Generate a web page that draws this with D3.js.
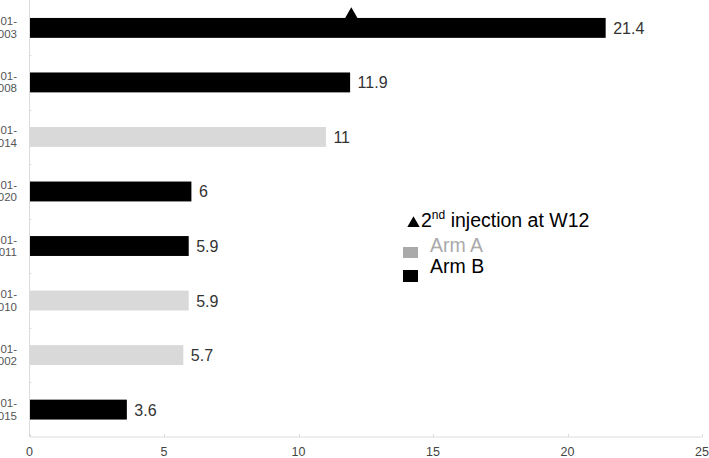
<!DOCTYPE html>
<html>
<head>
<meta charset="utf-8">
<script src="https://cdn.jsdelivr.net/npm/d3@7"></script>
<style>
  body { margin: 0; background: #fff; }
  svg { font-family: "Liberation Sans", Arial, sans-serif; }
</style>
</head>
<body>
<div id="chart"></div>
<script>
// data
var patients = ["01-003", "01-008", "01-014", "01-020", "01-011", "01-010", "01-002", "01-015"];
var values = [21.4, 11.9, 11, 6, 5.9, 5.9, 5.7, 3.6];
var arms = ["B", "B", "A", "B", "B", "A", "A", "B"];
var xTicks = [0, 5, 10, 15, 20, 25];
var injectionWeek = 12; // marker on 01-003

var W = 709, H = 458;
var plotLeft = 29.5, plotRight = 702, plotTop = 0.5, plotBottom = 437;

var svg = d3.select("#chart").append("svg").attr("width", W).attr("height", H);

var x = d3.scaleLinear().domain([0, 25]).range([plotLeft, plotRight]);
var y = d3.scaleBand().domain(patients).range([plotTop, plotBottom]).paddingInner(0.635).paddingOuter(0.32);
var yb = d3.scaleBand().domain(patients).range([plotTop, plotBottom]);
var armColor = { A: "#d9d9d9", B: "#000" };

// axes lines
svg.append("line").attr("x1", plotLeft).attr("x2", plotLeft).attr("y1", 0).attr("y2", plotBottom)
  .attr("stroke", "#dcdcdc").attr("stroke-width", 1);
svg.append("line").attr("x1", plotLeft).attr("x2", plotRight).attr("y1", plotBottom).attr("y2", plotBottom)
  .attr("stroke", "#dcdcdc").attr("stroke-width", 1);

// y ticks at band boundaries
svg.selectAll("ytick").data(patients.slice(1)).enter().append("line")
  .attr("x1", plotLeft).attr("x2", plotLeft + 2)
  .attr("y1", function (d) { return Math.round(yb(d)) + 0.5; })
  .attr("y2", function (d) { return Math.round(yb(d)) + 0.5; })
  .attr("stroke", "#dcdcdc");

// x ticks
svg.selectAll("xtick").data(xTicks).enter().append("line")
  .attr("x1", function (d) { return Math.round(x(d)) + 0.5; })
  .attr("x2", function (d) { return Math.round(x(d)) + 0.5; })
  .attr("y1", plotBottom - 3).attr("y2", plotBottom)
  .attr("stroke", "#dcdcdc");
svg.selectAll("xlab").data(xTicks).enter().append("text")
  .attr("x", function (d) { return x(d); })
  .attr("y", 456)
  .attr("text-anchor", "middle")
  .style("font-size", "12.5px")
  .style("fill", "#444")
  .text(function (d) { return d; });

// y labels (two lines, partly cut at left)
var ylab = svg.selectAll("ylab").data(patients).enter().append("text")
  .attr("text-anchor", "end")
  .style("font-size", "11.5px")
  .style("fill", "#555");
ylab.append("tspan")
  .attr("x", 17)
  .attr("y", function (d) { return y(d) + y.bandwidth() / 2 - 2.5; })
  .text(function (d) { return d.split("-")[0] + "-"; });
ylab.append("tspan")
  .attr("x", 17)
  .attr("y", function (d) { return y(d) + y.bandwidth() / 2 + 10; })
  .text(function (d) { return d.split("-")[1]; });

// bars
svg.selectAll("bar").data(patients).enter().append("rect")
  .attr("x", x(0) + 0.5)
  .attr("y", function (d) { return y(d); })
  .attr("width", function (d, i) { return x(values[i]) - x(0); })
  .attr("height", y.bandwidth())
  .style("fill", function (d, i) { return armColor[arms[i]]; });

// value labels
svg.selectAll("val").data(patients).enter().append("text")
  .attr("x", function (d, i) { return x(values[i]) + 8; })
  .attr("y", function (d) { return y(d) + y.bandwidth() / 2 + 6; })
  .style("font-size", "16px")
  .style("fill", "#333")
  .text(function (d, i) { return values[i]; });

// injection marker (base sits on the bar)
var mk = d3.symbol().type(d3.symbolTriangle).size(66);
svg.append("path").attr("d", mk)
  .attr("transform", "translate(" + (x(injectionWeek) - 1) + "," + (y(patients[0]) - 3.5) + ")")
  .style("fill", "#000");

// legend
var lg = svg.append("g");
lg.append("path").attr("d", mk)
  .attr("transform", "translate(413.5,223.5)")
  .style("fill", "#000");
var leg1 = lg.append("text").attr("x", 421).attr("y", 227)
  .style("font-size", "19.5px").style("fill", "#000");
leg1.append("tspan").text("2");
leg1.append("tspan").attr("dy", -8).style("font-size", "12px").text("nd");
leg1.append("tspan").attr("dy", 8).text(" injection at W12");

lg.append("rect").attr("x", 403).attr("y", 247).attr("width", 15).attr("height", 11).style("fill", "#aaa");
lg.append("text").attr("x", 430).attr("y", 252).style("font-size", "19.5px").style("fill", "#aaa").text("Arm A");
lg.append("rect").attr("x", 403).attr("y", 270).attr("width", 15).attr("height", 12).style("fill", "#000");
lg.append("text").attr("x", 430).attr("y", 273).style("font-size", "19.5px").style("fill", "#000").text("Arm B");
</script>
</body>
</html>
